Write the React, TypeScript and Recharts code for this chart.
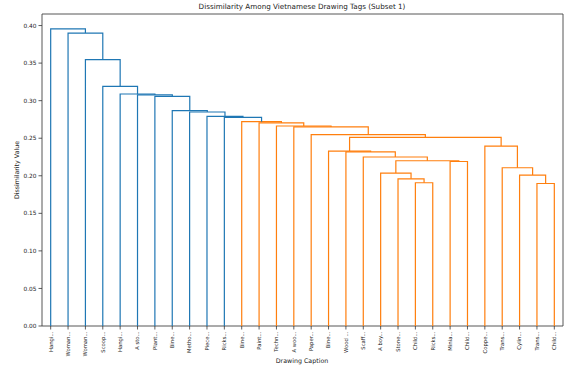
import { LineChart, Line, XAxis, YAxis, ReferenceArea } from 'recharts';

// leaf labels, left to right as drawn
const leafLabels = [
  'Hangi...', 'Woman...', 'Woman...', 'Scoop...', 'Hangi...', 'A sto...', 'Plant...',
  'Bine...', 'Metho...', 'Piece...', 'Ricks...', 'Bine...', 'Paint...', 'Techn...',
  'A woo...', 'Paper...', 'Bine...', 'Wood ...', 'Scaff...', 'A boy...', 'Stone...',
  'Child...', 'Ricks...', 'Minia...', 'Child...', 'Coppe...', 'Trans...', 'Cylin...',
  'Trans...', 'Child...',
];

// linkage rows: [left id, right id, height]; ids >= 30 are earlier merges (30 + row)
const merges: [number, number, number][] = [
  [28, 29, 0.1897],
  [21, 22, 0.1907],
  [20, 31, 0.196],
  [27, 30, 0.2009],
  [19, 32, 0.2036],
  [26, 33, 0.2107],
  [23, 24, 0.219],
  [34, 36, 0.22],
  [18, 37, 0.225],
  [17, 38, 0.2318],
  [16, 39, 0.2329],
  [25, 35, 0.2396],
  [40, 41, 0.251],
  [15, 42, 0.2547],
  [14, 43, 0.265],
  [13, 44, 0.2663],
  [12, 45, 0.2703],
  [11, 46, 0.272],
  [10, 47, 0.2778],
  [9, 48, 0.2791],
  [8, 49, 0.2849],
  [7, 50, 0.2867],
  [6, 51, 0.3058],
  [5, 52, 0.3076],
  [4, 53, 0.3089],
  [3, 54, 0.3191],
  [2, 55, 0.3547],
  [1, 56, 0.39],
  [0, 57, 0.3956],
];

const yTicks = [0, 0.05, 0.1, 0.15, 0.2, 0.25, 0.3, 0.35, 0.4];

const BLUE = '#1f77b4';
const ORANGE = '#ff7f0e';
const FONT = 'DejaVu Sans';

const n = leafLabels.length;
const maxH = Math.max(...merges.map((m) => m[2]));
const threshold = 0.7 * maxH;
const yTop = maxH * 1.05;
const leafX = leafLabels.map((_, i) => 5 + 10 * i);

// node positions, scipy style
const nodes: { x: number; h: number }[] = leafX.map((x) => ({ x, h: 0 }));
const links = merges.map(([a, b, h]) => {
  const l = nodes[a];
  const r = nodes[b];
  nodes.push({ x: (l.x + r.x) / 2, h });
  return {
    color: h < threshold ? ORANGE : BLUE,
    pts: [
      { x: l.x, y: l.h },
      { x: l.x, y: h },
      { x: r.x, y: h },
      { x: r.x, y: r.h },
    ],
  };
});

const LeafTick = ({ x, y, payload }: any) => {
  const i = Math.round((payload.value - 5) / 10);
  return (
    <text
      x={x}
      y={y}
      transform={`rotate(-90 ${x} ${y})`}
      textAnchor="end"
      dy="0.35em"
      fontSize={5.3}
      fontFamily={FONT}
      fill="#222"
    >
      {leafLabels[i]}
    </text>
  );
};

export default function App() {
  return (
    <div style={{ position: 'absolute', left: 0, top: 0, width: 564, height: 370, background: '#fff', fontFamily: FONT }}>
      <LineChart width={564} height={370} margin={{ top: 14, right: 1, bottom: 14, left: 12 }}>
        <XAxis
          dataKey="x"
          type="number"
          domain={[0, 300]}
          ticks={leafX}
          interval={0}
          tick={<LeafTick />}
          tickSize={3.5}
          tickMargin={2}
          height={30}
          axisLine={false}
          tickLine={{ stroke: '#333', strokeWidth: 0.8 }}
        />
        <YAxis
          type="number"
          domain={[0, yTop]}
          ticks={yTicks}
          tickFormatter={(v: number) => v.toFixed(2)}
          tick={{ fontSize: 5.8, fontFamily: FONT, fill: '#222' }}
          tickSize={3.5}
          tickMargin={2}
          width={30}
          axisLine={false}
          tickLine={{ stroke: '#333', strokeWidth: 0.8 }}
        />
        {links.map((lk, i) => (
          <Line
            key={i}
            data={lk.pts}
            dataKey="y"
            type="linear"
            stroke={lk.color}
            strokeWidth={1.2}
            dot={false}
            activeDot={false}
            isAnimationActive={false}
          />
        ))}
        <ReferenceArea x1={0} x2={300} y1={0} y2={yTop} fill="none" stroke="#444" strokeWidth={0.9} />
      </LineChart>
      <div style={{ position: 'absolute', left: 42, width: 520, top: 3, textAlign: 'center', fontSize: 7.2, lineHeight: 1, color: '#222' }}>
        Dissimilarity Among Vietnamese Drawing Tags (Subset 1)
      </div>
      <div style={{ position: 'absolute', left: 42, width: 520, top: 357.5, textAlign: 'center', fontSize: 6.3, lineHeight: 1, color: '#222' }}>
        Drawing Caption
      </div>
      <div
        style={{
          position: 'absolute',
          left: 17,
          top: 170,
          transform: 'translate(-50%, -50%) rotate(-90deg)',
          whiteSpace: 'nowrap',
          fontSize: 6.3,
          lineHeight: 1,
          color: '#222',
        }}
      >
        Dissimilarity Value
      </div>
    </div>
  );
}
